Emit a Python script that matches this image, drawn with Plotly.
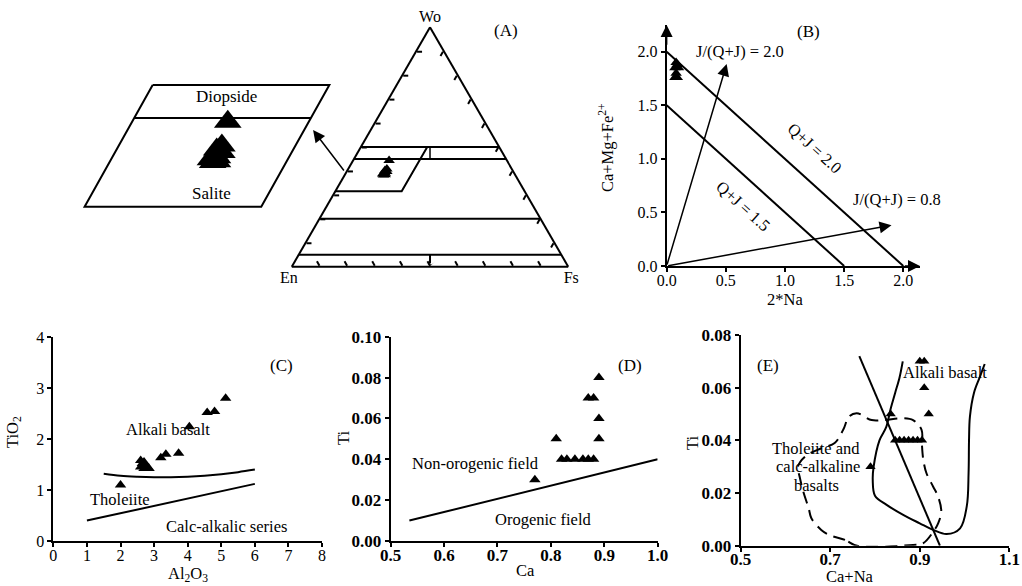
import numpy as np
import plotly.graph_objects as go

FONT = "Liberation Serif"
SQ3 = np.sqrt(3) / 2

# ---------------- Panel A: pyroxene quadrilateral (Wo, Fs in %) ----------------
a_wo = [44.4, 40.8, 40.2, 39.8, 39.4, 39.0, 38.7, 38.4, 38.3]
a_fs = [13.0, 14.0, 13.6, 14.5, 13.8, 14.3, 13.5, 14.6, 14.0]
a_wo_lines = [5, 20, 45, 50]
a_field_wo = [50, 31.5]      # Wo limits of the diopside-salite field
a_field_fs = [0, 24]         # Fs limits of the diopside-salite field

# ---------------- Panel B ----------------
b_na = [0.08, 0.09, 0.07, 0.10, 0.08, 0.07, 0.09]
b_cmf = [1.90, 1.88, 1.85, 1.85, 1.80, 1.76, 1.76]
b_qj = [1.5, 2.0]
b_jr_x = [0.507, 1.90]
b_jr_y = [1.885, 0.38]
b_ticks = [0.0, 0.5, 1.0, 1.5, 2.0]

# ---------------- Panel C ----------------
c_al = [2.0, 2.6, 2.65, 2.7, 2.75, 2.8, 2.85, 2.6, 2.7, 3.2, 3.35, 3.73, 4.05, 4.58, 4.8, 5.13]
c_ti = [1.1, 1.58, 1.52, 1.55, 1.48, 1.45, 1.42, 1.45, 1.42, 1.63, 1.70, 1.72, 2.24, 2.52, 2.54, 2.8]
c_curve_x = [1.5, 2.0, 2.5, 3.0, 3.5, 4.0, 4.5, 5.0, 5.5, 6.0]
c_curve_y = [1.32, 1.28, 1.26, 1.25, 1.25, 1.26, 1.28, 1.31, 1.35, 1.40]
c_line_x = [1.0, 6.0]
c_line_y = [0.40, 1.12]

# ---------------- Panel D ----------------
d_ca = [0.77, 0.81, 0.82, 0.83, 0.845, 0.86, 0.87, 0.88, 0.87, 0.88, 0.89, 0.89, 0.89]
d_ti = [0.03, 0.05, 0.04, 0.04, 0.04, 0.04, 0.04, 0.04, 0.07, 0.07, 0.08, 0.06, 0.05]
d_line_x = [0.535, 1.0]
d_line_y = [0.010, 0.040]

# ---------------- Panel E ----------------
e_cana = [0.79, 0.835, 0.845, 0.855, 0.865, 0.875, 0.885, 0.895, 0.905, 0.90, 0.91, 0.91, 0.92]
e_ti = [0.03, 0.05, 0.04, 0.04, 0.04, 0.04, 0.04, 0.04, 0.04, 0.07, 0.07, 0.06, 0.05]
e_line_x = [0.765, 0.945]
e_line_y = [0.072, 0.0]
e_alk_x = [0.862, 0.855, 0.845, 0.835, 0.825, 0.81, 0.797, 0.795, 0.80, 0.826, 0.863, 0.90, 0.93,
           0.96, 0.99, 1.005, 1.009, 1.010, 1.012, 1.021, 1.034, 1.045]
e_alk_y = [0.070, 0.064, 0.058, 0.052, 0.045, 0.040, 0.030, 0.025, 0.019, 0.0155, 0.0117, 0.0085,
           0.006, 0.0044, 0.0066, 0.015, 0.0275, 0.040, 0.049, 0.058, 0.064, 0.069]
e_th_x = [0.76, 0.733, 0.699, 0.68, 0.658, 0.652, 0.641, 0.632, 0.628, 0.645, 0.68, 0.71, 0.729,
          0.742, 0.759, 0.7925, 0.818, 0.8635, 0.885, 0.904, 0.905, 0.908, 0.915, 0.93, 0.941,
          0.948, 0.941, 0.93, 0.908, 0.885, 0.76]
e_th_y = [0.0, 0.0022, 0.004, 0.006, 0.0104, 0.0142, 0.0199, 0.026, 0.030, 0.034, 0.037, 0.039,
          0.044, 0.049, 0.0503, 0.0477, 0.0477, 0.0484, 0.0477, 0.044, 0.038, 0.0325, 0.0275,
          0.0224, 0.0186, 0.013, 0.0085, 0.0053, 0.001, 0.0003, 0.0]

K = "black"
TXT = 16.5
fig = go.Figure()


def proj(wo, fs):
    wo = np.asarray(wo, float)
    fs = np.asarray(fs, float)
    return fs + wo / 2, wo * SQ3


# ---- Panel A ternary
for w in a_wo_lines:
    fig.add_trace(go.Scatterternary(a=[w, w], b=[100 - w, 0], c=[0, 100 - w], mode="lines",
                                    line=dict(color=K, width=2), subplot="ternary"))
pw = [a_field_wo[0], a_field_wo[1], a_field_wo[1]]
pf = [a_field_fs[1], a_field_fs[1], a_field_fs[0]]
fig.add_trace(go.Scatterternary(a=pw, c=pf, b=[100 - x - y for x, y in zip(pw, pf)], mode="lines",
                                line=dict(color=K, width=2)))
fig.add_trace(go.Scatterternary(a=[50, 45], b=[25, 27.5], c=[25, 27.5], mode="lines",
                                line=dict(color=K, width=1.5)))
fig.add_trace(go.Scatterternary(a=[5, 0], b=[47.5, 50], c=[47.5, 50], mode="lines+markers",
                                line=dict(color=K, width=2), cliponaxis=False,
                                marker=dict(symbol="arrow-wide", size=[0, 7], color=K,
                                            angleref="previous")))
fig.add_trace(go.Scatterternary(a=a_wo, c=a_fs, b=[100 - x - y for x, y in zip(a_wo, a_fs)],
                                mode="markers", marker=dict(symbol="triangle-up", size=10, color=K)))

# ---- Panel A inset (magnified field)
corners_wo = [a_field_wo[0], a_field_wo[0], a_field_wo[1], a_field_wo[1], a_field_wo[0]]
corners_fs = [a_field_fs[0], a_field_fs[1], a_field_fs[1], a_field_fs[0], a_field_fs[0]]
ix, iy = proj(corners_wo, corners_fs)
fig.add_trace(go.Scatter(x=ix, y=iy, mode="lines", line=dict(color=K, width=2), xaxis="x5", yaxis="y5"))
dx, dy = proj([45, 45], a_field_fs)
fig.add_trace(go.Scatter(x=dx, y=dy, mode="lines", line=dict(color=K, width=2), xaxis="x5", yaxis="y5"))
px_, py_ = proj(a_wo, a_fs)
fig.add_trace(go.Scatter(x=px_, y=py_, mode="markers", marker=dict(symbol="triangle-up", size=24, color=K),
                         xaxis="x5", yaxis="y5"))

# ---- Panel B
for q in b_qj:
    fig.add_trace(go.Scatter(x=[0, q], y=[q, 0], mode="lines", line=dict(color=K, width=2),
                             xaxis="x4", yaxis="y4"))
fig.add_trace(go.Scatter(x=b_na, y=b_cmf, mode="markers", marker=dict(symbol="triangle-up", size=10, color=K),
                         xaxis="x4", yaxis="y4"))

# ---- Panel C
fig.add_trace(go.Scatter(x=c_curve_x, y=c_curve_y, mode="lines", line=dict(color=K, width=2, shape="spline"),
                         xaxis="x", yaxis="y"))
fig.add_trace(go.Scatter(x=c_line_x, y=c_line_y, mode="lines", line=dict(color=K, width=2), xaxis="x", yaxis="y"))
fig.add_trace(go.Scatter(x=c_al, y=c_ti, mode="markers", marker=dict(symbol="triangle-up", size=10, color=K),
                         xaxis="x", yaxis="y"))

# ---- Panel D
fig.add_trace(go.Scatter(x=d_line_x, y=d_line_y, mode="lines", line=dict(color=K, width=2), xaxis="x2", yaxis="y2"))
fig.add_trace(go.Scatter(x=d_ca, y=d_ti, mode="markers", marker=dict(symbol="triangle-up", size=10, color=K),
                         xaxis="x2", yaxis="y2"))

# ---- Panel E
fig.add_trace(go.Scatter(x=e_line_x, y=e_line_y, mode="lines", line=dict(color=K, width=2), xaxis="x3", yaxis="y3"))
fig.add_trace(go.Scatter(x=e_alk_x, y=e_alk_y, mode="lines", line=dict(color=K, width=2, shape="spline"),
                         xaxis="x3", yaxis="y3"))
fig.add_trace(go.Scatter(x=e_th_x, y=e_th_y, mode="lines",
                         line=dict(color=K, width=2, shape="spline", dash="12px,7px"),
                         xaxis="x3", yaxis="y3"))
fig.add_trace(go.Scatter(x=e_cana, y=e_ti, mode="markers", marker=dict(symbol="triangle-up", size=9, color=K),
                         xaxis="x3", yaxis="y3"))


def ax(size=16, weight="normal", **kw):
    d = dict(showline=True, linecolor=K, linewidth=2, ticks="outside", ticklen=4, tickwidth=2,
             tickcolor=K, showgrid=False, zeroline=False,
             tickfont=dict(family=FONT, size=size, color=K, weight=weight))
    d.update(kw)
    return d


tern_ax = dict(showticklabels=False, ticks="inside", ticklen=5, tickwidth=1.5, tickcolor=K,
               dtick=10, linewidth=2, linecolor=K, showgrid=False, min=0)
tern_font = dict(family=FONT, size=16, color=K)

layout = dict(
    width=1022, height=586, margin=dict(l=0, r=0, t=0, b=0, autoexpand=False),
    paper_bgcolor="white", plot_bgcolor="rgba(0,0,0,0)", showlegend=False,
    font=dict(family=FONT, size=TXT, color=K),
    xaxis=ax(16, domain=[0.0522, 0.3151], range=[0, 8], dtick=1, anchor="y", ticklabelstandoff=-5),
    yaxis=ax(16, domain=[0.0768, 0.4249], range=[0, 4], dtick=1, anchor="x"),
    xaxis2=ax(17, "bold", domain=[0.3823, 0.6435], range=[0.5, 1.0], dtick=0.1, tickformat=".1f",
              anchor="y2", ticklabelstandoff=-6),
    yaxis2=ax(17, "bold", domain=[0.0768, 0.4254], range=[0, 0.10], dtick=0.02, tickformat=".2f", anchor="x2"),
    xaxis3=ax(17, "bold", domain=[0.7247, 0.9876], range=[0.5, 1.1], tickvals=[0.5, 0.7, 0.9, 1.1],
              tickformat=".1f", anchor="y3", ticklabelstandoff=-7),
    yaxis3=ax(17, "bold", domain=[0.0688, 0.4283], range=[0, 0.08], dtick=0.02, tickformat=".2f", anchor="x3"),
    xaxis4=ax(16, domain=[0.6523, 0.9002], range=[0, 2.141], tickvals=b_ticks, tickformat=".1f",
              anchor="y4", ticklabelstandoff=-5),
    yaxis4=ax(16, domain=[0.5461, 0.9573], range=[0, 2.249], tickvals=b_ticks, tickformat=".1f", anchor="x4"),
    xaxis5=dict(domain=[0.0587, 0.3376], range=[12.41, 51.13], visible=False, anchor="y5"),
    yaxis5=dict(domain=[0.6246, 0.8805], range=[25.53, 45.27], visible=False, anchor="x5"),
    ternary=dict(domain=dict(x=[0.2854, 0.5561], y=[0.5449, 0.9534]), sum=100, bgcolor="rgba(0,0,0,0)",
                 aaxis=dict(title=dict(text="Wo", font=tern_font), **tern_ax),
                 baxis=dict(title=dict(text="En", font=tern_font), **tern_ax),
                 caxis=dict(title=dict(text="Fs", font=tern_font), **tern_ax)),
)
fig.update_layout(**layout)

ann = []


def txt(x, y, s, ref="paper", xr=None, yr=None, angle=0, size=TXT):
    d = dict(x=x, y=y, text=s, showarrow=False, xanchor="center", yanchor="middle", textangle=angle,
             font=dict(family=FONT, size=size, color=K))
    if ref == "paper":
        d.update(xref="paper", yref="paper")
    else:
        d.update(xref=xr, yref=yr)
    ann.append(d)


# panel labels
txt(0.4951, 0.9488, "(A)", size=17)
txt(1.197, 2.187, "(B)", "d", "x4", "y4", size=17)
txt(6.79, 3.45, "(C)", "d", "x", "y", size=17)
txt(0.948, 0.086, "(D)", "d", "x2", "y2", size=17)
txt(0.561, 0.0686, "(E)", "d", "x3", "y3", size=17)
# inset labels
txt(0.2218, 0.835, "Diopside", size=17)
txt(0.2071, 0.6701, "Salite", size=17)
# panel B labels
txt(0.62, 2.0, "J/(Q+J) = 2.0", "d", "x4", "y4")
txt(1.254, 1.101, "Q+J = 2.0", "d", "x4", "y4", angle=42)
txt(0.648, 0.553, "Q+J = 1.5", "d", "x4", "y4", angle=42)
txt(1.944, 0.622, "J/(Q+J) = 0.8", "d", "x4", "y4")
# panel C labels
txt(3.40, 2.18, "Alkali basalt", "d", "x", "y")
txt(1.98, 0.82, "Tholeiite", "d", "x", "y")
txt(5.16, 0.28, "Calc-alkalic series", "d", "x", "y")
# panel D labels
txt(0.658, 0.038, "Non-orogenic field", "d", "x2", "y2")
txt(0.786, 0.0103, "Orogenic field", "d", "x2", "y2")
# panel E labels
txt(0.957, 0.0657, "Alkali basalt", "d", "x3", "y3")
txt(0.669, 0.037, "Tholeiite and", "d", "x3", "y3")
txt(0.673, 0.030, "calc-alkaline", "d", "x3", "y3")
txt(0.669, 0.0228, "basalts", "d", "x3", "y3")
# axis titles
txt(0.0127, 0.2628, "TiO<sub>2</sub>", angle=-90)
txt(0.184, 0.0210, "Al<sub>2</sub>O<sub>3</sub>")
txt(0.3366, 0.2526, "Ti", angle=-90)
txt(0.5137, 0.0256, "Ca")
txt(0.6771, 0.244, "Ti", angle=-90)
txt(0.8317, 0.0165, "Ca+Na")
txt(0.593, 0.7474, "Ca+Mg+Fe<sup>2+</sup>", angle=-90)
txt(0.7681, 0.4881, "2*Na")

arrow_style = dict(showarrow=True, arrowhead=2, arrowsize=1.6, arrowwidth=1.5, arrowcolor=K, text="")
# J/(Q+J) vectors
for xe, ye in zip(b_jr_x, b_jr_y):
    ann.append(dict(x=xe, y=ye, ax=0, ay=0, xref="x4", yref="y4", axref="x4", ayref="y4", **arrow_style))
# axis arrows of panel B
ann.append(dict(x=0, y=2.249, ax=0, ay=2.05, xref="x4", yref="y4", axref="x4", ayref="y4", **arrow_style))
ann.append(dict(x=2.141, y=0, ax=2.0, ay=0, xref="x4", yref="y4", axref="x4", ayref="y4", **arrow_style))
# connector from the ternary field to the inset
ann.append(dict(x=0.3063, y=0.7782, ax=32, ay=42, xref="paper", yref="paper", **arrow_style))

fig.update_layout(annotations=ann)
fig.write_html("out.html")
